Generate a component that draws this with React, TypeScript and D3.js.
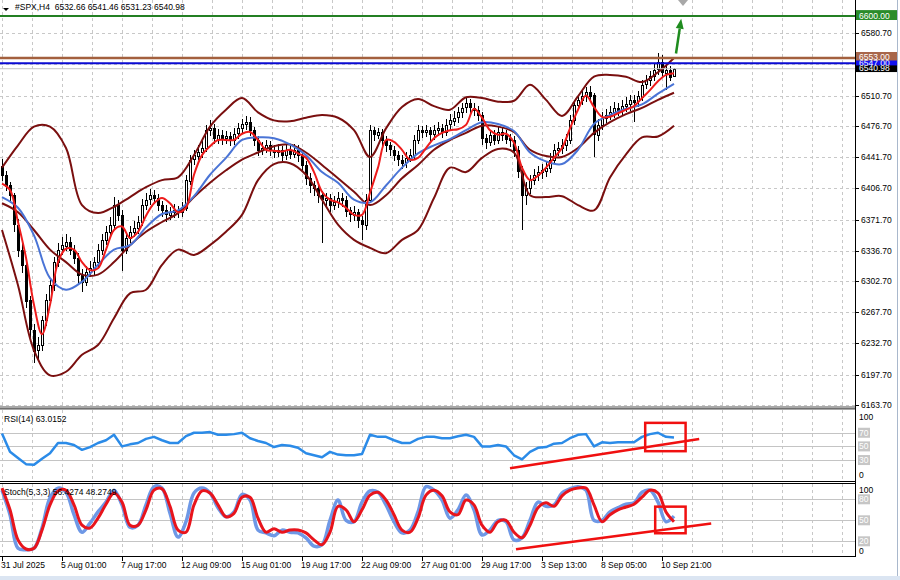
import React, { useRef, useEffect } from "react";
import * as d3 from "d3";

// header texts
const symbolTitle = "#SPX,H4  6532.66 6541.46 6531.23 6540.98";
const rsiTitle = "RSI(14) 63.0152";
const stochTitle = "Stoch(5,3,3) 56.4274 48.2749";

// time axis: one label every 15 bars
const timeLabels = [
  "31 Jul 2025", "5 Aug 01:00", "7 Aug 17:00", "12 Aug 09:00", "15 Aug 01:00", "19 Aug 17:00",
  "22 Aug 09:00", "27 Aug 01:00", "29 Aug 17:00", "3 Sep 13:00", "8 Sep 05:00", "10 Sep 21:00",
];
const priceTicks = [6580.7, 6545.7, 6510.7, 6476.7, 6441.7, 6406.7, 6371.7, 6336.7, 6302.7, 6267.7, 6232.7, 6197.7, 6163.7];
const hiddenPriceLabels = [6545.7];

// H4 candles (open of each bar = previous close)
const firstOpen = 6432;
const closes = [
  6422, 6410, 6399, 6366, 6338, 6321, 6281, 6248, 6225, 6231,
  6259, 6281, 6298, 6324, 6338, 6343, 6347, 6338, 6329, 6310,
  6302, 6313, 6317, 6324, 6338, 6349, 6358, 6366, 6388, 6377,
  6338, 6351, 6358, 6362, 6369, 6388, 6394, 6399, 6396, 6388,
  6382, 6377, 6380, 6382, 6380, 6385, 6416, 6439, 6444, 6448,
  6452, 6472, 6474, 6463, 6467, 6463, 6465, 6461, 6468, 6474,
  6479, 6481, 6472, 6461, 6450, 6452, 6455, 6450, 6448, 6450,
  6444, 6450, 6446, 6450, 6444, 6433, 6418, 6410, 6407, 6399,
  6394, 6396, 6388, 6391, 6396, 6394, 6382, 6377, 6380, 6371,
  6366, 6394, 6472, 6467, 6470, 6461, 6455, 6450, 6444, 6439,
  6436, 6441, 6444, 6461, 6472, 6470, 6472, 6467, 6472, 6474,
  6470, 6478, 6483, 6486, 6492, 6497, 6502, 6497, 6495, 6489,
  6463, 6459, 6467, 6461, 6470, 6467, 6463, 6461, 6450, 6427,
  6399, 6407, 6416, 6422, 6425, 6427, 6430, 6439, 6450, 6452,
  6455, 6461, 6483, 6500, 6506, 6510, 6515, 6511, 6467, 6478,
  6486, 6489, 6492, 6497, 6495, 6499, 6501, 6506, 6504, 6510,
  6523, 6528, 6533, 6540, 6548, 6537, 6540, 6532.66, 6540.98,
];
const highs = [
  6440, 6426, 6414, 6402, 6372, 6345, 6326, 6286, 6255, 6240,
  6264, 6288, 6305, 6330, 6345, 6352, 6355, 6352, 6343, 6334,
  6316, 6320, 6325, 6330, 6344, 6356, 6364, 6375, 6397, 6394,
  6382, 6356, 6365, 6370, 6376, 6395, 6402, 6406, 6405, 6400,
  6393, 6388, 6386, 6389, 6387, 6392, 6422, 6444, 6450, 6455,
  6460, 6478, 6483, 6479, 6473, 6472, 6471, 6470, 6474, 6480,
  6485, 6488, 6487, 6476, 6465, 6459, 6461, 6460, 6455, 6457,
  6454, 6456, 6455, 6456, 6455, 6448, 6437, 6424, 6415, 6412,
  6404, 6402, 6400, 6398, 6403, 6402, 6398, 6386, 6387, 6384,
  6376, 6400, 6478, 6476, 6475, 6473, 6465, 6459, 6454, 6449,
  6444, 6447, 6451, 6467, 6478, 6477, 6478, 6476, 6478, 6481,
  6479, 6484, 6490, 6493, 6498, 6503, 6509, 6507, 6503, 6499,
  6492, 6468, 6472, 6472, 6476, 6475, 6472, 6468, 6465, 6454,
  6432, 6414, 6422, 6428, 6432, 6434, 6437, 6446, 6456, 6459,
  6462, 6468, 6489, 6506, 6512, 6516, 6520, 6522, 6514, 6484,
  6492, 6496, 6499, 6504, 6503, 6506, 6509, 6512, 6512, 6516,
  6528, 6534, 6538, 6546, 6559, 6556, 6546, 6544, 6541.46,
];
const lows = [
  6415, 6404, 6390, 6358, 6330, 6312, 6272, 6236, 6211, 6213,
  6224, 6252, 6276, 6292, 6318, 6332, 6336, 6332, 6322, 6300,
  6290, 6297, 6307, 6310, 6318, 6332, 6343, 6352, 6360, 6370,
  6314, 6333, 6345, 6352, 6356, 6364, 6382, 6388, 6389, 6381,
  6375, 6369, 6371, 6374, 6373, 6375, 6381, 6410, 6433, 6438,
  6441, 6447, 6465, 6456, 6457, 6455, 6456, 6454, 6455, 6462,
  6468, 6472, 6466, 6454, 6443, 6444, 6446, 6443, 6441, 6442,
  6437, 6439, 6440, 6441, 6436, 6426, 6410, 6402, 6398, 6390,
  6345, 6386, 6380, 6382, 6385, 6386, 6375, 6369, 6370, 6362,
  6349, 6360, 6390, 6460, 6462, 6454, 6448, 6443, 6437, 6432,
  6428, 6430, 6436, 6440, 6456, 6463, 6464, 6460, 6461, 6466,
  6463, 6465, 6472, 6477, 6480, 6486, 6491, 6490, 6488, 6482,
  6455, 6451, 6454, 6455, 6456, 6460, 6457, 6453, 6442, 6418,
  6360, 6388, 6400, 6410, 6415, 6417, 6419, 6424, 6434, 6443,
  6445, 6449, 6456, 6478, 6495, 6500, 6504, 6505, 6442, 6460,
  6472, 6480, 6483, 6486, 6488, 6489, 6492, 6494, 6481, 6498,
  6505, 6518, 6522, 6527, 6534, 6530, 6517, 6527, 6531.23,
];

// Bollinger bands and slow MA, read every 4 bars
const bandUpper = [
  6430, 6455, 6476, 6476, 6452, 6388, 6379, 6386, 6397, 6408, 6416, 6419, 6444, 6476, 6495,
  6508, 6492, 6483, 6482, 6486, 6489, 6486, 6472, 6442, 6474, 6498, 6507, 6499, 6495, 6509,
  6508, 6504, 6505, 6523, 6506, 6488, 6510, 6532, 6534, 6532, 6526, 6537, 6553,
];
const bandMiddle = [
  6390, 6380, 6360, 6338, 6324, 6310, 6310, 6324, 6343, 6358, 6369, 6379, 6397, 6413, 6427,
  6439, 6447, 6454, 6456, 6447, 6433, 6418, 6403, 6388, 6399, 6418, 6433, 6450, 6461, 6469,
  6477, 6476, 6470, 6450, 6443, 6442, 6452, 6469, 6481, 6490, 6497, 6506, 6514,
];
const bandLower = [
  6360, 6298, 6225, 6197, 6201, 6220, 6231, 6261, 6289, 6293, 6321, 6338, 6332, 6343, 6358,
  6377, 6416, 6434, 6435, 6422, 6394, 6366, 6349, 6340, 6334, 6349, 6360, 6396, 6430, 6425,
  6441, 6451, 6447, 6399, 6397, 6398, 6388, 6382, 6419, 6445, 6464, 6465, 6477,
];
const slowMA = [
  6397, 6385, 6354, 6306, 6293, 6302, 6321, 6338, 6343, 6363, 6378, 6382, 6398, 6422, 6441,
  6461, 6464, 6463, 6456, 6444, 6425, 6413, 6394, 6391, 6410, 6430, 6446, 6455, 6462, 6472,
  6481, 6479, 6471, 6447, 6437, 6434, 6450, 6479, 6489, 6496, 6501, 6513, 6524,
];

// fast MA, RSI and stochastic, read every 2 bars
const fastMA = [
  6412, 6405, 6369, 6329, 6276, 6243, 6276, 6324, 6339, 6338,
  6324, 6315, 6317, 6338, 6360, 6364, 6351, 6358, 6376, 6390,
  6396, 6390, 6380, 6385, 6422, 6444, 6454, 6461, 6461, 6461,
  6468, 6470, 6461, 6450, 6449, 6448, 6450, 6446, 6441, 6425,
  6403, 6394, 6391, 6385, 6377, 6377, 6402, 6430, 6461, 6459,
  6450, 6439, 6441, 6452, 6463, 6469, 6472, 6473, 6478, 6496,
  6486, 6472, 6467, 6468, 6458, 6430, 6416, 6421, 6430, 6441,
  6452, 6474, 6495, 6511, 6498, 6487, 6487, 6491, 6495, 6499,
  6508, 6517, 6527, 6534, 6536,
];
const rsi = [
  69, 42, 33, 24, 23, 32, 40, 55, 55, 52,
  45, 49, 55, 59, 67, 50, 53, 55, 61, 64,
  59, 55, 55, 65, 70, 70, 71, 67, 67, 68,
  70, 62, 58, 55, 49, 52, 51, 48, 40, 37,
  34, 42, 38, 37, 37, 39, 67, 64, 64, 59,
  55, 55, 61, 64, 64, 62, 62, 65, 67, 64,
  50, 50, 52, 50, 37, 31, 42, 48, 49, 54,
  55, 62, 67, 68, 50, 56, 55, 56, 56, 56,
  64, 68, 70, 64, 63,
];
const stochMain = [
  93, 58, 10, 8, 10, 39, 82, 96, 90, 58,
  33, 46, 62, 76, 93, 72, 40, 43, 72, 98,
  96, 60, 26, 48, 89, 96, 89, 68, 55, 62,
  87, 79, 36, 32, 28, 36, 33, 32, 25, 13,
  15, 50, 79, 50, 48, 76, 92, 90, 72, 48,
  32, 36, 62, 98, 93, 79, 53, 65, 86, 65,
  29, 36, 50, 48, 22, 25, 50, 76, 70, 72,
  89, 95, 98, 93, 50, 50, 62, 68, 73, 75,
  90, 93, 76, 48, 56,
];
const stochSignal = [
  96, 65, 22, 9, 10, 36, 72, 92, 93, 72,
  43, 39, 53, 73, 89, 76, 43, 43, 65, 93,
  95, 70, 36, 33, 72, 92, 89, 72, 55, 60,
  83, 83, 53, 33, 38, 33, 36, 36, 32, 22,
  15, 33, 70, 65, 48, 65, 86, 90, 79, 58,
  36, 33, 53, 86, 93, 85, 62, 58, 79, 72,
  43, 33, 48, 50, 33, 25, 43, 68, 75, 70,
  85, 93, 96, 96, 72, 48, 58, 65, 69, 73,
  83, 93, 89, 62, 48,
];

// horizontal objects on the price chart (drawn in this order)
const priceLevels = [
  { price: 6600, text: "6600.00", line: "#237f23", box: "#2a8c2a", width: 2 },
  { price: 6553, text: "6553.00", line: "#a3603e", box: "#a8664a", width: 2.5 },
  { price: 6547, text: "6547.00", line: "#0a0ad2", box: "#1010f0", width: 2 },
  { price: 6540.98, text: "6540.98", line: "#c4c4c4", box: "#000000", width: 1 },
];
const rsiLevels = [70, 50, 30];
const stochLevels = [80, 50, 20];

// annotations: [bar, value]
const arrowFrom = [168.5, 6558];
const arrowTo = [169.8, 6597];
const rsiTrend = [[127, 18], [174.3, 61]];
const rsiBox = [[160.8, 84.5], [170.9, 43]];
const stochTrend = [[128.5, 8.5], [177.3, 45.5]];
const stochBox = [[163.3, 69.5], [170.9, 31.5]];

const App = () => {
  const svgRef = useRef<SVGSVGElement>(null);

  useEffect(() => {
    document.body.style.margin = "0";
    const svg = d3.select(svgRef.current);
    svg.selectAll("*").remove();

    const font = "'Liberation Sans', Arial, sans-serif";
    const right = 855;
    const main = { top: 0, bottom: 406 };
    const rsiPane = { top: 410, bottom: 481 };
    const stoPane = { top: 484, bottom: 556 };

    const x = d3.scaleLinear().domain([0, 100]).range([2, 402]);
    const y = d3.scaleLinear().domain([6163.7, 6580.7]).range([405, 33.3]);
    const yRsi = d3.scaleLinear().domain([0, 100]).range([480.5, 412.3]);
    const ySto = d3.scaleLinear().domain([0, 100]).range([555.3, 485.3]);

    svg.append("rect").attr("width", 900).attr("height", 580).attr("fill", "#ffffff");

    const defs = svg.append("defs");
    [["clipMain", main], ["clipRsi", rsiPane], ["clipSto", stoPane]].forEach(([id, p]: any) => {
      defs.append("clipPath").attr("id", id)
        .append("rect").attr("x", 0).attr("y", p.top).attr("width", right).attr("height", p.bottom - p.top);
    });

    // vertical dashed grid, every 7.5 bars
    const gridBars = d3.range(0, 214, 7.5);
    [main, rsiPane, stoPane].forEach((p) => {
      svg.append("g").selectAll("line").data(gridBars).enter().append("line")
        .attr("x1", (d) => Math.round(x(d)) + 0.5).attr("x2", (d) => Math.round(x(d)) + 0.5)
        .attr("y1", p.top).attr("y2", p.bottom)
        .attr("stroke", "#c8c8c8").attr("stroke-dasharray", "3,3");
    });

    // horizontal grid in price pane
    svg.append("g").selectAll("line").data(priceTicks).enter().append("line")
      .attr("x1", 0).attr("x2", right)
      .attr("y1", (d) => Math.round(y(d)) + 0.5).attr("y2", (d) => Math.round(y(d)) + 0.5)
      .attr("stroke", "#c8c8c8").attr("stroke-dasharray", "3,3");

    // indicator levels
    rsiLevels.forEach((v) => {
      svg.append("line").attr("x1", 0).attr("x2", right)
        .attr("y1", Math.round(yRsi(v)) + 0.5).attr("y2", Math.round(yRsi(v)) + 0.5)
        .attr("stroke", "#c4c4c4");
    });
    stochLevels.forEach((v) => {
      svg.append("line").attr("x1", 0).attr("x2", right)
        .attr("y1", Math.round(ySto(v)) + 0.5).attr("y2", Math.round(ySto(v)) + 0.5)
        .attr("stroke", "#c4c4c4");
    });

    // candles
    const candles = svg.append("g").attr("clip-path", "url(#clipMain)").attr("shape-rendering", "crispEdges");
    const bars = closes.map((c, i) => ({
      i, o: i === 0 ? firstOpen : closes[i - 1], c, h: highs[i], l: lows[i],
    }));
    candles.selectAll("line").data(bars).enter().append("line")
      .attr("x1", (d) => x(d.i) + 0.5).attr("x2", (d) => x(d.i) + 0.5)
      .attr("y1", (d) => y(d.h)).attr("y2", (d) => y(d.l))
      .attr("stroke", "#000");
    candles.selectAll("rect").data(bars).enter().append("rect")
      .attr("x", (d) => x(d.i) - 0.5).attr("width", 2)
      .attr("y", (d) => Math.round(y(Math.max(d.o, d.c))) + 0.5)
      .attr("height", (d) => Math.max(1, Math.round(Math.abs(y(d.o) - y(d.c)))))
      .attr("fill", (d) => (d.c >= d.o ? "#ffffff" : "#000000"))
      .attr("stroke", "#000");

    // bands and moving averages
    const lines = svg.append("g").attr("clip-path", "url(#clipMain)").attr("fill", "none");
    const every = (step: number) =>
      d3.line<number>().x((_, i) => x(i * step)).y((d) => y(d)).curve(d3.curveCatmullRom.alpha(0.5));
    [bandUpper, bandMiddle, bandLower].forEach((s) => {
      lines.append("path").attr("d", every(4)(s)).attr("stroke", "#7a0f0f").attr("stroke-width", 2);
    });
    lines.append("path").attr("d", every(4)(slowMA)).attr("stroke", "#4a74d6").attr("stroke-width", 2);
    lines.append("path").attr("d", every(2)(fastMA)).attr("stroke", "#ee1c1c").attr("stroke-width", 2);

    // horizontal objects
    priceLevels.forEach((lv) => {
      svg.append("line").attr("x1", 0).attr("x2", right)
        .attr("y1", y(lv.price)).attr("y2", y(lv.price))
        .attr("stroke", lv.line).attr("stroke-width", lv.width);
    });

    // green arrow
    const ax0 = x(arrowFrom[0]), ay0 = y(arrowFrom[1]);
    const ax1 = x(arrowTo[0]), ay1 = y(arrowTo[1]);
    const ang = Math.atan2(ay1 - ay0, ax1 - ax0);
    const hl = 10, hw = 4;
    const bx = ax1 - hl * Math.cos(ang), by = ay1 - hl * Math.sin(ang);
    svg.append("line").attr("x1", ax0).attr("y1", ay0).attr("x2", bx).attr("y2", by)
      .attr("stroke", "#1f8c1f").attr("stroke-width", 2.5);
    svg.append("polygon")
      .attr("points", [
        [ax1, ay1],
        [bx - hw * Math.sin(ang), by + hw * Math.cos(ang)],
        [bx + hw * Math.sin(ang), by - hw * Math.cos(ang)],
      ].map((p) => p.join(",")).join(" "))
      .attr("fill", "#1f8c1f");

    // RSI
    svg.append("path").attr("clip-path", "url(#clipRsi)")
      .attr("d", d3.line<number>().x((_, i) => x(i * 2)).y((d) => yRsi(d))(rsi))
      .attr("fill", "none").attr("stroke", "#2b8be8").attr("stroke-width", 2.5)
      .attr("stroke-linejoin", "round");

    // Stochastic
    const stoLine = d3.line<number>().x((_, i) => x(i * 2)).y((d) => ySto(d)).curve(d3.curveCatmullRom.alpha(0.5));
    const sto = svg.append("g").attr("clip-path", "url(#clipSto)").attr("fill", "none");
    sto.append("path").attr("d", stoLine(stochMain)).attr("stroke", "#6e98e6").attr("stroke-width", 3.5);
    sto.append("path").attr("d", stoLine(stochSignal)).attr("stroke", "#e8141c").attr("stroke-width", 3);

    // red trend lines and boxes
    const redLine = (pts: number[][], ys: any) => {
      svg.append("line")
        .attr("x1", x(pts[0][0])).attr("y1", ys(pts[0][1]))
        .attr("x2", x(pts[1][0])).attr("y2", ys(pts[1][1]))
        .attr("stroke", "#f01010").attr("stroke-width", 2.5);
    };
    const redBox = (pts: number[][], ys: any) => {
      svg.append("rect")
        .attr("x", x(pts[0][0])).attr("y", ys(pts[0][1]))
        .attr("width", x(pts[1][0]) - x(pts[0][0])).attr("height", ys(pts[1][1]) - ys(pts[0][1]))
        .attr("fill", "none").attr("stroke", "#f01010").attr("stroke-width", 2.5);
    };
    redLine(rsiTrend, yRsi);
    redBox(rsiBox, yRsi);
    redLine(stochTrend, ySto);
    redBox(stochBox, ySto);

    // pane frames
    const frames = svg.append("g").attr("shape-rendering", "crispEdges");
    frames.append("rect").attr("x", 0).attr("y", 406).attr("width", right + 1).attr("height", 4).attr("fill", "#a8a8a8");
    frames.append("line").attr("x1", 0).attr("x2", right).attr("y1", 408.5).attr("y2", 408.5).attr("stroke", "#707070");
    frames.append("line").attr("x1", 0).attr("x2", right).attr("y1", 481.5).attr("y2", 481.5).attr("stroke", "#000");
    frames.append("line").attr("x1", 0).attr("x2", right).attr("y1", 483.5).attr("y2", 483.5).attr("stroke", "#000");
    frames.append("line").attr("x1", 0).attr("x2", right).attr("y1", 556.5).attr("y2", 556.5).attr("stroke", "#000");
    frames.append("line").attr("x1", right + 0.5).attr("x2", right + 0.5).attr("y1", 0).attr("y2", 557).attr("stroke", "#000");
    frames.append("line").attr("x1", 897.5).attr("x2", 897.5).attr("y1", 0).attr("y2", 577).attr("stroke", "#a9b8cc");
    frames.append("rect").attr("x", 0).attr("y", 576).attr("width", 900).attr("height", 4).attr("fill", "#dbe5f2");

    // price axis
    const axis = svg.append("g").attr("font-family", font).attr("font-size", 8.5);
    priceTicks.filter((v) => !hiddenPriceLabels.includes(v)).forEach((v) => {
      axis.append("line").attr("x1", right).attr("x2", right + 4)
        .attr("y1", Math.round(y(v)) + 0.5).attr("y2", Math.round(y(v)) + 0.5).attr("stroke", "#000");
      axis.append("text").attr("x", 861).attr("y", y(v) + 3).text(d3.format(".2f")(v));
    });
    // level boxes stack on each other, each text clipped to its own box
    priceLevels.forEach((lv, k) => {
      const cy = y(lv.price);
      const top = k === 0 ? cy - 6 : k === 1 ? cy - 6 : k === 2 ? cy - 3 : cy - 3.5;
      const h = k === 3 ? 7 : 10;
      defs.append("clipPath").attr("id", `lvClip${k}`)
        .append("rect").attr("x", 856).attr("y", top).attr("width", 41).attr("height", h);
      const g = axis.append("g").attr("clip-path", `url(#lvClip${k})`);
      g.append("rect").attr("x", 856).attr("y", top).attr("width", 41).attr("height", h).attr("fill", lv.box);
      g.append("text").attr("x", 859).attr("y", cy + 2.5).attr("fill", "#fff").text(lv.text);
    });

    // indicator scales
    const levelLabel = (v: number, cy: number) => {
      axis.append("rect").attr("x", 858).attr("y", cy - 5).attr("width", 12).attr("height", 10).attr("fill", "#c6c6c6");
      axis.append("text").attr("x", 859).attr("y", cy + 3).attr("fill", "#ffffff").text(v);
    };
    axis.append("text").attr("x", 859).attr("y", 420).text("100");
    rsiLevels.forEach((v) => levelLabel(v, yRsi(v)));
    axis.append("text").attr("x", 859).attr("y", 478).text("0");
    axis.append("text").attr("x", 859).attr("y", 493).text("100");
    stochLevels.forEach((v) => levelLabel(v, ySto(v)));
    axis.append("text").attr("x", 859).attr("y", 554).text("0");

    // time axis
    timeLabels.forEach((t, k) => {
      const tx = Math.round(x(k * 15));
      axis.append("line").attr("x1", tx + 0.5).attr("x2", tx + 0.5).attr("y1", 557).attr("y2", 561).attr("stroke", "#000");
      axis.append("text").attr("x", tx - 1).attr("y", 568).text(t);
    });

    // titles
    svg.append("polygon").attr("points", "3,8 9,8 6,11").attr("fill", "#000");
    axis.append("text").attr("x", 15).attr("y", 10).attr("xml:space", "preserve").text(symbolTitle);
    axis.append("text").attr("x", 4).attr("y", 422).text(rsiTitle);
    axis.append("text").attr("x", 4).attr("y", 495).text(stochTitle);

    // chart shift marker
    svg.append("polygon").attr("points", "678,0 688,0 683,6").attr("fill", "#a8a8a8");
  }, []);

  return <svg ref={svgRef} width={900} height={580} style={{ display: "block" }} />;
};

export default App;
